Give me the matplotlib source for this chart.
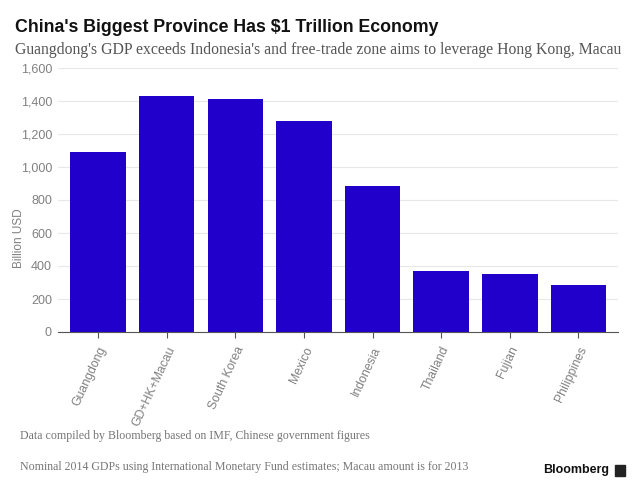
import matplotlib.pyplot as plt
from matplotlib.patches import Rectangle

# GDP values (billion USD)
regions = ['Guangdong', 'GD+HK+Macau', 'South Korea', 'Mexico', 'Indonesia',
           'Thailand', 'Fujian', 'Philippines']
gdp = [1092, 1432, 1412, 1280, 886, 372, 354, 282]
y_ticks = [0, 200, 400, 600, 800, 1000, 1200, 1400, 1600]

fig = plt.figure(figsize=(6.4, 5.0), dpi=100)
ax = fig.add_axes([0.091, 0.336, 0.875, 0.528])

ax.bar(range(len(regions)), gdp, width=0.81, color='#2200cc', zorder=2)

ax.set_xlim(-0.58, len(regions) - 1 + 0.58)
ax.set_ylim(0, 1600)
ax.set_yticks(y_ticks)
ax.set_yticklabels([f'{v:,}' for v in y_ticks], color='#808080', fontsize=9,
                   family='Liberation Sans')
ax.set_xticks(range(len(regions)))
ax.set_xticklabels(regions, rotation=65, ha='right', rotation_mode='anchor',
                   color='#808080', fontsize=8.8, family='Liberation Sans')
fig.text(0.03, 0.524, 'Billion USD', rotation=90, color='#808080', fontsize=8.5,
         family='Liberation Sans', ha='center', va='center')

ax.grid(axis='y', color='#e8e8e8', linewidth=0.8, zorder=0)
for s in ['top', 'right', 'left']:
    ax.spines[s].set_visible(False)
ax.spines['bottom'].set_color('#555555')
ax.tick_params(axis='y', length=0, pad=4.5)
ax.tick_params(axis='x', length=4, color='#555555', pad=5)

fig.text(0.023, 0.944, "China's Biggest Province Has $1 Trillion Economy",
         fontsize=12.8, fontweight='bold', family='Liberation Sans',
         color='#111111', va='center')
fig.text(0.023, 0.899, "Guangdong's GDP exceeds Indonesia's and free-trade zone aims to leverage Hong Kong, Macau",
         fontsize=11.3, family='Liberation Serif', color='#555555', va='center')
fig.text(0.031, 0.127, 'Data compiled by Bloomberg based on IMF, Chinese government figures',
         fontsize=8.6, family='Liberation Serif', color='#777777', va='center')
fig.text(0.031, 0.066, 'Nominal 2014 GDPs using International Monetary Fund estimates; Macau amount is for 2013',
         fontsize=8.6, family='Liberation Serif', color='#777777', va='center')
fig.text(0.952, 0.06, 'Bloomberg', fontsize=9, fontweight='bold',
         family='Liberation Sans', color='#111111', va='center', ha='right')
fig.patches.append(Rectangle((0.961, 0.048), 0.016, 0.022, transform=fig.transFigure,
                             color='#222222'))

plt.savefig('out.png', dpi=100)
